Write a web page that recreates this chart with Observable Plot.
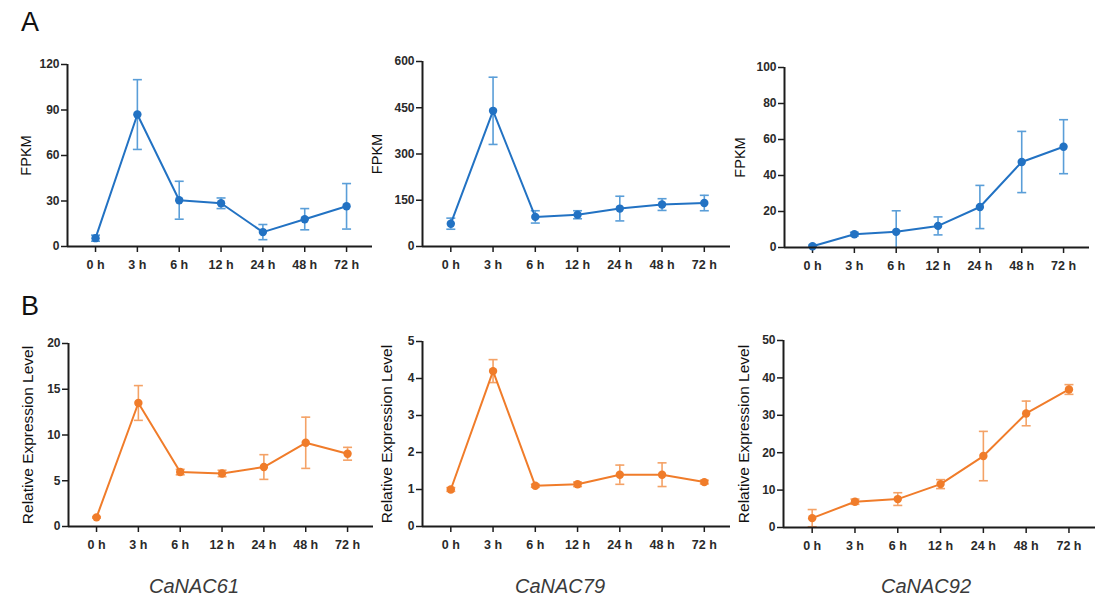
<!DOCTYPE html>
<html><head><meta charset="utf-8">
<script src="https://cdn.jsdelivr.net/npm/d3@7"></script>
<script src="https://cdn.jsdelivr.net/npm/@observablehq/plot@0.6"></script>
<style>
body{margin:0;background:#fff;}
#root{position:relative;width:1107px;height:607px;font-family:"Liberation Sans",Arial,sans-serif;overflow:hidden;}
.panel{position:absolute;}
.letter{position:absolute;font-size:27px;color:#111;line-height:1;}
.gene{position:absolute;font-size:20px;font-style:italic;color:#3a3a3a;transform:translateX(-50%);line-height:1;white-space:nowrap;}
</style></head><body><div id="root"></div>
<script>
// ---- data ----
const times = ["0 h","3 h","6 h","12 h","24 h","48 h","72 h"];
const genes = ["CaNAC61","CaNAC79","CaNAC92"];
const panelLetters = ["A","B"];

// A: RNA-seq FPKM (mean, error)
const fpkm61    = [5.5, 87, 30.5, 28.5, 9.5, 18, 26.5];
const fpkm61Err = [2, 23, 12.5, 3.5, 5, 7, 15];
const fpkm79    = [74, 440, 96, 103, 123, 136, 141];
const fpkm79Err = [18, 109, 20, 13, 40, 19, 25];
const fpkm92    = [0.7, 7.4, 8.7, 12, 22.5, 47.5, 56];
const fpkm92Err = [0.6, 1, 11.7, 5, 12, 17, 15];

// B: qRT-PCR relative expression (mean, error)
const rel61    = [1.0, 13.5, 5.95, 5.8, 6.5, 9.15, 7.95];
const rel61Err = [0.08, 1.9, 0.3, 0.35, 1.35, 2.8, 0.7];
const rel79    = [1.0, 4.2, 1.1, 1.14, 1.4, 1.4, 1.2];
const rel79Err = [0.05, 0.31, 0.04, 0.06, 0.26, 0.32, 0.05];
const rel92    = [2.5, 6.9, 7.6, 11.6, 19.1, 30.5, 36.9];
const rel92Err = [2.3, 0.7, 1.7, 1.2, 6.6, 3.3, 1.3];

// y tick labels
const ticksF61 = [0, 30, 60, 90, 120];
const ticksF79 = [0, 150, 300, 450, 600];
const ticksF92 = [0, 20, 40, 60, 80, 100];
const ticksR61 = [0, 5, 10, 15, 20];
const ticksR79 = [0, 1, 2, 3, 4, 5];
const ticksR92 = [0, 10, 20, 30, 40, 50];

const yLabelA = "FPKM";
const yLabelB = "Relative Expression Level";

// ---- styling / layout ----
const blue = {dark: "#2272c3", light: "#5a9ed8"};
const orange = {dark: "#f07c2a", light: "#f4a266"};
const axisColor = "#1c1c1c";
const textColor = "#2a2a2a";
const mL = 60, mR = 12, mT = 10, mB = 40;

const panels = [
  {v: fpkm61, e: fpkm61Err, ticks: ticksF61, label: yLabelA, fs: 14.5, c: blue, ax: 67, top: 64, bot: 246, w: 305, lo: 41},
  {v: fpkm79, e: fpkm79Err, ticks: ticksF79, label: yLabelA, fs: 14.5, c: blue, ax: 422, top: 61, bot: 246, w: 308, lo: 45},
  {v: fpkm92, e: fpkm92Err, ticks: ticksF92, label: yLabelA, fs: 14.5, c: blue, ax: 784, top: 67, bot: 247, w: 305, lo: 44},
  {v: rel61, e: rel61Err, ticks: ticksR61, label: yLabelB, fs: 15.5, c: orange, ax: 68, top: 343, bot: 526, w: 305, lo: 40},
  {v: rel79, e: rel79Err, ticks: ticksR79, label: yLabelB, fs: 15.5, c: orange, ax: 422, top: 341, bot: 526, w: 308, lo: 35},
  {v: rel92, e: rel92Err, ticks: ticksR92, label: yLabelB, fs: 15.5, c: orange, ax: 783, top: 340, bot: 527, w: 312, lo: 39},
];

const capSymbol = {
  draw(ctx, size) {
    const r = Math.sqrt(size / Math.PI);
    ctx.moveTo(-r, 0); ctx.lineTo(r, 0);
  }
};

const root = document.getElementById("root");

panels.forEach(p => {
  const n = times.length;
  const data = p.v.map((v, i) => ({i, v, lo: v - p.e[i], hi: v + p.e[i]}));
  const xDom = [-0.67, n - 1 + 0.62];
  const yMax = p.ticks[p.ticks.length - 1];
  const h = p.bot - p.top;
  const chart = Plot.plot({
    width: p.w + mL + mR,
    height: h + mT + mB,
    marginLeft: mL, marginRight: mR, marginTop: mT, marginBottom: mB,
    style: {fontFamily: '"Liberation Sans", Arial, sans-serif', fontSize: "12px", color: textColor, background: "none", overflow: "visible"},
    x: {domain: xDom, axis: null},
    y: {domain: [0, yMax], axis: null},
    marks: [
      Plot.axisX(d3.range(n), {tickFormat: i => times[i], tickSize: 6, tickPadding: 8, stroke: axisColor, strokeWidth: 1.5, fontSize: 12.5, fill: textColor, label: null}),
      Plot.axisY(p.ticks, {tickSize: 6, tickPadding: 2, stroke: axisColor, strokeWidth: 1.5, fontSize: 12, fill: textColor, label: null}),
      Plot.text([p.label], {frameAnchor: "left", rotate: -90, textAnchor: "middle", dx: -p.lo, fontSize: p.fs, fill: "#111"}),
      Plot.ruleX(data, {x: "i", y1: "lo", y2: "hi", stroke: p.c.light, strokeWidth: 1.6, clip: true}),
      Plot.dot(data, {x: "i", y: "hi", symbol: capSymbol, r: 4.5, stroke: p.c.light, strokeWidth: 1.6, fill: "none", clip: true}),
      Plot.dot(data, {x: "i", y: "lo", symbol: capSymbol, r: 4.5, stroke: p.c.light, strokeWidth: 1.6, fill: "none", clip: true}),
      Plot.line(data, {x: "i", y: "v", stroke: p.c.dark, strokeWidth: 2}),
      Plot.dot(data, {x: "i", y: "v", r: 4.2, fill: p.c.dark, stroke: "none"}),
      Plot.ruleY([0], {stroke: axisColor, strokeWidth: 2}),
      Plot.ruleX([xDom[0]], {y1: 0, y2: yMax, stroke: axisColor, strokeWidth: 2})
    ]
  });
  chart.classList.add("panel");
  chart.style.left = (p.ax - mL) + "px";
  chart.style.top = (p.top - mT) + "px";
  chart.querySelectorAll('g[aria-label="x-axis tick label"] text, g[aria-label="y-axis tick label"] text').forEach(t => t.setAttribute("font-weight", "bold"));
  root.appendChild(chart);
});

// panel letters
[{t: panelLetters[0], x: 21, y: 9}, {t: panelLetters[1], x: 21, y: 293}].forEach(l => {
  const d = document.createElement("div");
  d.className = "letter"; d.textContent = l.t;
  d.style.left = l.x + "px"; d.style.top = l.y + "px";
  root.appendChild(d);
});

// gene names
[194, 560, 926].forEach((cx, k) => {
  const d = document.createElement("div");
  d.className = "gene"; d.textContent = genes[k];
  d.style.left = cx + "px"; d.style.top = "576px";
  root.appendChild(d);
});
</script>
</body></html>
